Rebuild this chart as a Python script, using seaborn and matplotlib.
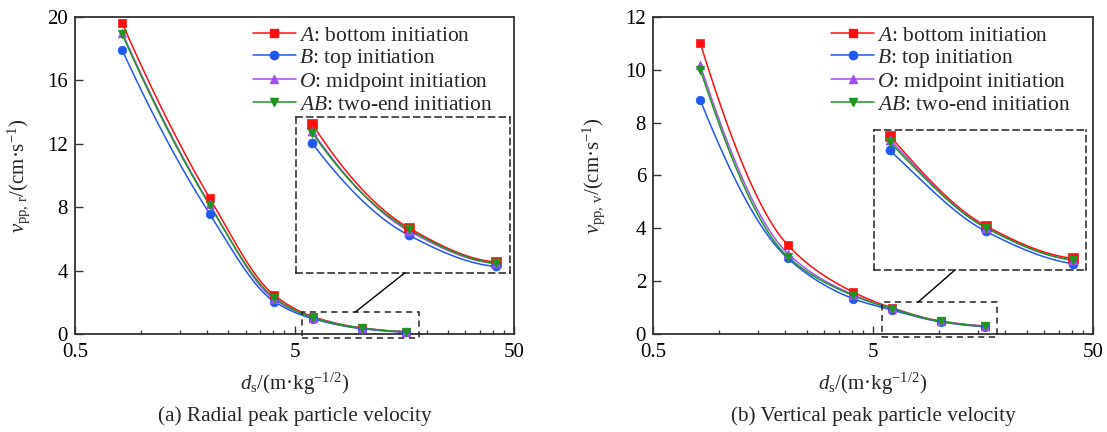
import numpy as np
import pandas as pd
import matplotlib
matplotlib.use("Agg")
import matplotlib.pyplot as plt
import seaborn as sns
from matplotlib.lines import Line2D
from matplotlib.patches import Rectangle, ConnectionPatch
from matplotlib.ticker import FixedLocator, NullFormatter, FixedFormatter

# ---------------- data ----------------
ds = [0.82, 2.05, 4.05, 6.1, 10.15, 16.1]
series_names = ["A", "B", "O", "AB"]
legend_labels = [r"$A$: bottom initiation", r"$B$: top initiation",
                 r"$O$: midpoint initiation", r"$AB$: two-end initiation"]

radial_A = [19.6, 8.6, 2.45, 1.10, 0.40, 0.17]
radial_B = [17.9, 7.6, 2.05, 0.97, 0.35, 0.14]
radial_O = [19.0, 8.2, 2.20, 1.05, 0.38, 0.16]
radial_AB = [18.9, 8.15, 2.30, 1.04, 0.39, 0.16]

vert_A = [11.0, 3.37, 1.60, 1.00, 0.50, 0.32]
vert_B = [8.85, 2.87, 1.35, 0.92, 0.47, 0.29]
vert_O = [10.17, 3.05, 1.50, 0.98, 0.49, 0.31]
vert_AB = [10.0, 2.93, 1.47, 0.965, 0.49, 0.31]

yticks_r = [0, 4, 8, 12, 16, 20]
yticks_v = [0, 2, 4, 6, 8, 10, 12]
xtick_major = [0.5, 5, 50]
xtick_labels = ["0.5", "5", "50"]
xtick_minor = [1, 1.5, 2, 2.5, 3, 3.5, 4, 4.5, 10, 15, 20, 25, 30, 35, 40, 45]
captions = ["(a) Radial peak particle velocity", "(b) Vertical peak particle velocity"]
ylabels = [r"$v_{\rm pp,\,r}$/(cm·s$^{-1}$)", r"$v_{\rm pp,\,v}$/(cm·s$^{-1}$)"]
xlabel = r"$d_{\rm s}$/(m·kg$^{-1/2}$)"

colors = {"A": "#FF1010", "B": "#2058F0", "O": "#A450F0", "AB": "#1E961E"}
markers = {"A": "s", "B": "o", "O": "^", "AB": "v"}

# ---------------- style ----------------
sns.set_theme(style="white")
plt.rcParams["font.family"] = ["Liberation Serif", "DejaVu Serif"]
plt.rcParams["mathtext.fontset"] = "custom"
plt.rcParams["mathtext.rm"] = "Liberation Serif"
plt.rcParams["mathtext.it"] = "Liberation Serif:italic"
plt.rcParams["mathtext.bf"] = "Liberation Serif:bold"
plt.rcParams["axes.edgecolor"] = "#333333"


def pchip(xk, yk, xq):
    xk = np.asarray(xk, float); yk = np.asarray(yk, float)
    h = np.diff(xk); d = np.diff(yk) / h
    n = len(xk); m = np.zeros(n)
    for k in range(1, n - 1):
        if d[k - 1] * d[k] > 0:
            w1 = 2 * h[k] + h[k - 1]; w2 = h[k] + 2 * h[k - 1]
            m[k] = (w1 + w2) / (w1 / d[k - 1] + w2 / d[k])
    def endslope(h0, h1, d0, d1):
        s = ((2 * h0 + h1) * d0 - h0 * d1) / (h0 + h1)
        if np.sign(s) != np.sign(d0):
            s = 0.0
        elif np.sign(d0) != np.sign(d1) and abs(s) > abs(3 * d0):
            s = 3 * d0
        return s
    m[0] = endslope(h[0], h[1], d[0], d[1])
    m[-1] = endslope(h[-1], h[-2], d[-1], d[-2])
    idx = np.clip(np.searchsorted(xk, xq) - 1, 0, n - 2)
    t = (xq - xk[idx]) / h[idx]
    h00 = 2 * t**3 - 3 * t**2 + 1; h10 = t**3 - 2 * t**2 + t
    h01 = -2 * t**3 + 3 * t**2; h11 = t**3 - t**2
    return h00 * yk[idx] + h10 * h[idx] * m[idx] + h01 * yk[idx + 1] + h11 * h[idx] * m[idx + 1]


def build_frames(vals):
    pts, curves = [], []
    lx = np.log10(ds)
    q = np.linspace(lx[0], lx[-1], 400)
    for name, v in zip(series_names, vals):
        pts.append(pd.DataFrame({"ds": ds, "v": v, "s": name}))
        curves.append(pd.DataFrame({"ds": 10**q, "v": pchip(lx, v, q), "s": name}))
    return pd.concat(pts), pd.concat(curves)


def draw_series(ax, pts, curves, ms, clip):
    for name in series_names:
        c = curves[curves.s == name]
        p = pts[pts.s == name]
        sns.lineplot(data=c, x="ds", y="v", ax=ax, color=colors[name], lw=1.1,
                     legend=False, sort=False, estimator=None, clip_on=clip)
        sns.scatterplot(data=p, x="ds", y="v", ax=ax, color=colors[name],
                        marker=markers[name], s=ms, edgecolor=colors[name],
                        linewidth=0.5, legend=False, zorder=5, clip_on=clip)


W, H = 1107, 432
fig = plt.figure(figsize=(W / 100, H / 100), dpi=100)

def px_axes(x0, y0, x1, y1):
    return fig.add_axes([x0 / W, (H - y1) / H, (x1 - x0) / W, (y1 - y0) / H])

configs = [
    dict(vals=[radial_A, radial_B, radial_O, radial_AB], box=(75, 16.7, 514, 334.3),
         ylim=(0, 20), yticks=yticks_r,
         inset=(295.7, 117.3, 510, 272.7), ixlim=(5.59, 17.3), iylim=(0.098, 1.145),
         small=(5.4, 18.4, -0.25, 1.385), conn_from=(9.43, 1.385), conn_to=0.51),
    dict(vals=[vert_A, vert_B, vert_O, vert_AB], box=(653, 16.7, 1093, 334.3),
         ylim=(0, 12), yticks=yticks_v,
         inset=(874.3, 130, 1086, 270), ixlim=(5.62, 17.26), iylim=(0.255, 1.033),
         small=(5.47, 18.3, -0.09, 1.21), conn_from=(8.0, 1.21), conn_to=0.381),
]

for i, cfg in enumerate(configs):
    ax = px_axes(*cfg["box"])
    pts, curves = build_frames(cfg["vals"])
    draw_series(ax, pts, curves, ms=38, clip=False)
    ax.set_xscale("log")
    ax.set_xlim(0.5, 50)
    ax.set_ylim(*cfg["ylim"])
    ax.xaxis.set_major_locator(FixedLocator(xtick_major))
    ax.xaxis.set_major_formatter(FixedFormatter(xtick_labels))
    ax.xaxis.set_minor_locator(FixedLocator(xtick_minor))
    ax.xaxis.set_minor_formatter(NullFormatter())
    ax.set_yticks(cfg["yticks"])
    ax.set_yticklabels([str(t) for t in cfg["yticks"]])
    ax.tick_params(which="major", direction="in", length=6, width=1.0, labelsize=15,
                   color="#333333", labelcolor="black", pad=5)
    ax.tick_params(axis="x", which="major", pad=6)
    ax.tick_params(which="minor", direction="in", length=3, width=0.9, color="#333333")
    ax.tick_params(axis="x", which="both", top=False, bottom=True)
    ax.tick_params(axis="y", which="both", left=True, right=False)
    for sp in ax.spines.values():
        sp.set_linewidth(1.3)
        sp.set_color("#333333")
    ax.set_xlabel(xlabel, fontsize=15)
    ax.xaxis.set_label_coords(0.5, -0.115)
    ax.set_ylabel(ylabels[i], fontsize=15)
    ax.yaxis.set_label_coords(-0.098 if i == 0 else -0.105, 0.5)

    handles = [Line2D([0], [0], color=colors[n], marker=markers[n], markersize=6,
                      lw=1.1, markeredgecolor=colors[n]) for n in series_names]
    ax.legend(handles, legend_labels, loc="upper left", bbox_to_anchor=(0.405, 0.972),
              frameon=False, fontsize=15.5, handlelength=2.0, handletextpad=0.15,
              labelspacing=0.05, borderpad=0, borderaxespad=0)

    # small dashed box in main axes
    x0, x1, y0, y1 = cfg["small"]
    ax.add_patch(Rectangle((x0, y0), x1 - x0, y1 - y0, fill=False, ls=(0, (4, 3)),
                           lw=1.1, ec="#222222", clip_on=False, zorder=6))

    # inset: only the part of the curves from the first point inside the zoom window
    iax = px_axes(*cfg["inset"])
    lo = min(d for d in ds if d >= cfg["ixlim"][0])
    draw_series(iax, pts[pts.ds >= lo], curves[curves.ds >= lo * 0.9999], ms=42, clip=True)
    iax.set_xscale("log")
    iax.set_xlim(*cfg["ixlim"])
    iax.set_ylim(*cfg["iylim"])
    iax.set_xticks([]); iax.set_yticks([])
    iax.minorticks_off()
    iax.set_xlabel(""); iax.set_ylabel("")
    iax.patch.set_alpha(0)
    for sp in iax.spines.values():
        sp.set_linestyle((0, (4, 3)))
        sp.set_linewidth(1.1)
        sp.set_color("#222222")

    con = ConnectionPatch(xyA=cfg["conn_from"], coordsA=ax.transData,
                          xyB=(cfg["conn_to"], 0), coordsB=iax.transAxes,
                          color="black", lw=1.0)
    fig.add_artist(con)

    cx = (cfg["box"][0] + cfg["box"][2]) / 2 / W
    fig.text(cx, (H - 416) / H, captions[i], ha="center", va="center", fontsize=15.3)

fig.savefig("out.png", dpi=100)
